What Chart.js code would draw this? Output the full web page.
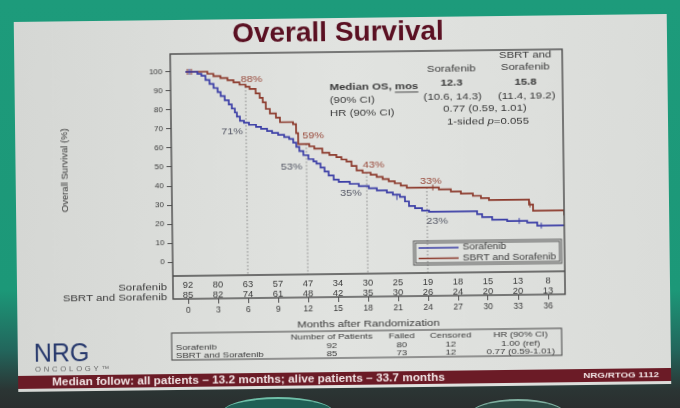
<!DOCTYPE html>
<html>
<head>
<meta charset="utf-8">
<title>Overall Survival</title>
<script src="https://cdn.jsdelivr.net/npm/chart.js@4.4.0/dist/chart.umd.min.js"></script>
<style>
  html, body { margin: 0; padding: 0; }
  body {
    width: 680px; height: 408px; overflow: hidden; position: relative;
    background: linear-gradient(180deg, #1d9b7b 0px, #1c9878 290px, #22665c 350px, #2b3534 390px, #2a2e2e 408px);
  }
  #slide { position: absolute; left: 0; top: 0; transform: rotate(-0.7deg); }
  .blob { position: absolute; border-radius: 50% 50% 0 0; }
</style>
</head>
<body>
<div class="blob" style="left:222px;top:397px;width:112px;height:30px;background:#1f5f55;border-top:2px solid #6fbfa8"></div>
<div class="blob" style="left:470px;top:399px;width:96px;height:30px;background:#2c4a44;border-top:2px solid #7fae9f"></div>
<canvas id="slide" width="680" height="408"></canvas>
<script>
// ---- data ----
const monthTicks = [0, 3, 6, 9, 12, 15, 18, 21, 24, 27, 30, 33, 36];
const survivalTicks = [0, 10, 20, 30, 40, 50, 60, 70, 80, 90, 100];

const sorafenibTime = [0, 1.2, 1.6, 2.0, 2.4, 2.8, 3.2, 3.5, 3.9, 4.3, 4.6, 4.9, 5.1, 5.4, 5.8, 6.3, 7.0, 7.5, 8.1, 8.6,
  9.2, 9.8, 10.3, 10.7, 11.0, 11.3, 11.7, 12.2, 12.7, 13.0, 13.4, 13.8, 14.2, 14.7, 15.2, 16.3, 17.2, 18.2, 19.0, 20.0,
  20.6, 21.3, 21.8, 22.2, 22.8, 23.5, 24.2, 29.0, 29.5, 30.5, 32.0, 34.0, 35.0, 37.7];
const sorafenibSurv = [100, 98.9, 97.8, 95.6, 93.5, 91.3, 89.1, 87, 84.8, 82.6, 80.4, 78.3, 76.1, 73.9, 72.8, 71.7, 70.6, 69.5, 68.4, 67.3,
  66.2, 65.1, 64, 62, 59.8, 57.6, 55.4, 53.3, 52, 50.9, 48.7, 46.6, 44.5, 42.3, 41.1, 40, 38.8, 37.6, 36.4, 35.2,
  34, 32.8, 30.4, 28, 26.8, 25.5, 24.8, 23.2, 21.6, 20.2, 19.4, 18.5, 16.8, 16.8];

const sbrtTime = [0, 2.2, 2.8, 3.5, 4.2, 4.8, 5.4, 6.0, 6.4, 7.0, 7.4, 7.7, 8.0, 8.4, 9.0, 9.4, 10.7, 11.0, 11.2, 12.3,
  12.8, 13.6, 14.3, 15.0, 15.5, 16.0, 16.5, 17.0, 17.6, 18.4, 19.0, 19.6, 20.2, 20.8, 21.4, 22.0, 25.2, 26.4, 27.4, 28.6,
  29.4, 30.2, 34.2, 34.6, 37.4, 37.7];
const sbrtSurv = [100, 98.8, 97.6, 96.5, 95.3, 94.1, 92.9, 91.8, 90.6, 88.2, 85.9, 83.5, 80, 77.6, 75.3, 72.9, 71.8, 67, 61.2, 60,
  58.8, 56.5, 55.3, 54.1, 52.9, 51.8, 49.4, 47, 45.8, 44.7, 43.5, 42.3, 41.1, 40, 38.8, 37.6, 36.5, 35.3, 34.1, 32.9,
  31.6, 30.6, 28, 24.7, 24.7, 22];

const sorafenibCensorTime = [0.4, 21.0, 33.2, 35.4];
const sorafenibCensorSurv = [100, 32.8, 19.4, 16.8];
const sbrtCensorTime = [0.2, 0.6, 24.6, 34.3];
const sbrtCensorSurv = [100, 100, 37.6, 28];

const sorafenibAtRisk = [92, 80, 63, 57, 47, 34, 30, 25, 19, 18, 15, 13, 8];
const sbrtAtRisk = [85, 82, 74, 61, 48, 42, 35, 30, 26, 24, 20, 20, 13];

const milestoneMonths = [6, 12, 18, 24];
const sorafenibMilestone = ['71%', '53%', '35%', '23%'];
const sbrtMilestone = ['88%', '59%', '43%', '33%'];

const groups = ['Sorafenib', 'SBRT and Sorafenib'];
const patients = [92, 85];
const failed = [80, 73];
const censored = [12, 12];
const hrText = ['1.00 (ref)', '0.77 (0.59-1.01)'];

// ---- styling ----
const BLUE = '#3b3ea6';
const RED = '#8c3a2c';
const INK = '#3a3a3a';
const FONT = '"Liberation Sans", Arial, sans-serif';
const SEPARATOR_Y = 274;
const WIDE = 1.2; // the slide text is a little stretched sideways
const sbrtLabelOffset = [[6, -7], [7, -8], [7, -7], [4, -6]];
const sorafenibLabelOffset = [[-14, 9], [-15, 12], [-16, 7], [10, 11]];

Chart.defaults.font.family = FONT;

function toXY(t, s) {
  return t.map((x, i) => ({ x: x, y: s[i] }));
}

function stepValue(times, surv, t) {
  let v = surv[0];
  for (let i = 0; i < times.length; i++) {
    if (times[i] <= t) v = surv[i];
  }
  return v;
}

function text(ctx, str, x, y, font, color, align, sx) {
  ctx.save();
  ctx.font = font;
  ctx.fillStyle = color;
  ctx.textAlign = align || 'left';
  ctx.textBaseline = 'middle';
  ctx.translate(x, y);
  ctx.scale(sx || 1, 1);
  ctx.fillText(str, 0, 0);
  ctx.restore();
}

function textWidth(ctx, str, font, sx) {
  ctx.font = font;
  return ctx.measureText(str).width * (sx || 1);
}

const slidePlugin = {
  id: 'slide',
  beforeDraw(chart) {
    const ctx = chart.ctx;
    ctx.save();
    const g = ctx.createLinearGradient(16, 0, 669, 0);
    g.addColorStop(0, '#d5d7d4');
    g.addColorStop(0.5, '#e1e3e0');
    g.addColorStop(1, '#dadcd9');
    ctx.fillStyle = g;
    ctx.fillRect(16, 18, 653, 370);

    text(ctx, 'Overall Survival', 340, 33, 'bold 28px ' + FONT, '#5a1022', 'center');

    // footer bar
    ctx.fillStyle = '#6b1b26';
    ctx.fillRect(16, 372, 653, 13);
    text(ctx, 'Median follow: all patients \u2013 13.2 months; alive patients \u2013 33.7 months', 50, 379, 'bold 10px ' + FONT, '#f1e4e4', 'left', 1.18);
    text(ctx, 'NRG/RTOG 1112', 657, 378.5, 'bold 8px ' + FONT, '#f1e4e4', 'right', 1.22);

    // logo
    text(ctx, 'NRG', 32, 351, '25px ' + FONT, '#26386c');
    ctx.letterSpacing = '2.5px';
    text(ctx, 'ONCOLOGY\u2122', 33, 366, '7px ' + FONT, '#6a6a6a', 'left', 1.1);
    ctx.letterSpacing = '0px';
    ctx.restore();
  },
  beforeDatasetsDraw(chart) {
    const ctx = chart.ctx;
    const xs = chart.scales.x, ys = chart.scales.y;
    ctx.save();
    ctx.strokeStyle = '#8a8a8a';
    ctx.lineWidth = 1;
    ctx.setLineDash([1.5, 2]);
    milestoneMonths.forEach(m => {
      const x = xs.getPixelForValue(m);
      ctx.beginPath();
      ctx.moveTo(x, ys.getPixelForValue(stepValue(sbrtTime, sbrtSurv, m)));
      ctx.lineTo(x, SEPARATOR_Y);
      ctx.stroke();
    });
    ctx.restore();
  },
  afterDraw(chart) {
    const ctx = chart.ctx;
    const a = chart.chartArea;
    const xs = chart.scales.x, ys = chart.scales.y;
    ctx.save();

    // frame and at-risk band
    ctx.strokeStyle = '#4a4a4a';
    ctx.lineWidth = 1.4;
    ctx.strokeRect(a.left, a.top, a.right - a.left, a.bottom - a.top);
    ctx.beginPath();
    ctx.moveTo(a.left, SEPARATOR_Y);
    ctx.lineTo(a.right, SEPARATOR_Y);
    ctx.stroke();

    const fNum = '8.5px ' + FONT;
    monthTicks.forEach((m, i) => {
      const x = xs.getPixelForValue(m);
      text(ctx, String(sorafenibAtRisk[i]), x, 284, fNum, INK, 'center', 1.1);
      text(ctx, String(sbrtAtRisk[i]), x, 294, fNum, INK, 'center', 1.1);
    });
    text(ctx, groups[0], 166, 285, '9.5px ' + FONT, INK, 'right', WIDE);
    text(ctx, groups[1], 166, 295, '9.5px ' + FONT, INK, 'right', WIDE);

    // axis titles
    text(ctx, 'Months after Randomization', xs.getPixelForValue(18), 324, '9.5px ' + FONT, INK, 'center', WIDE);
    ctx.save();
    ctx.translate(65, 167);
    ctx.rotate(-Math.PI / 2);
    text(ctx, 'Overall Survival (%)', 0, 0, '9.5px ' + FONT, INK, 'center');
    ctx.restore();

    // milestone labels
    const fLab = '9px ' + FONT;
    milestoneMonths.forEach((m, i) => {
      const x = xs.getPixelForValue(m);
      const yr = ys.getPixelForValue(stepValue(sbrtTime, sbrtSurv, m));
      const yb = ys.getPixelForValue(stepValue(sorafenibTime, sorafenibSurv, m));
      text(ctx, sbrtMilestone[i], x + sbrtLabelOffset[i][0], yr + sbrtLabelOffset[i][1], fLab, '#98493a', 'center', WIDE);
      text(ctx, sorafenibMilestone[i], x + sorafenibLabelOffset[i][0], yb + sorafenibLabelOffset[i][1], fLab, '#555866', 'center', WIDE);
    });

    // median / HR block
    const f9 = '9.5px ' + FONT, b9 = 'bold 9.5px ' + FONT, i9 = 'italic 9.5px ' + FONT;
    text(ctx, 'Median OS, mos', 331, 87, b9, INK, 'left', WIDE);
    const wMed = textWidth(ctx, 'Median OS, ', b9, WIDE), wMos = textWidth(ctx, 'mos', b9, WIDE);
    ctx.fillStyle = INK;
    ctx.fillRect(331 + wMed, 92.5, wMos, 0.9);
    text(ctx, '(90% CI)', 331, 100, f9, INK, 'left', WIDE);
    text(ctx, 'HR (90% CI)', 331, 113, f9, INK, 'left', WIDE);
    text(ctx, 'Sorafenib', 453, 70, f9, INK, 'center', WIDE);
    text(ctx, '12.3', 453, 84, b9, INK, 'center', WIDE);
    text(ctx, '(10.6, 14.3)', 454, 98, f9, INK, 'center', WIDE);
    text(ctx, 'SBRT and', 527, 57, f9, INK, 'center', WIDE);
    text(ctx, 'Sorafenib', 527, 69, f9, INK, 'center', WIDE);
    text(ctx, '15.8', 527, 84, b9, INK, 'center', WIDE);
    text(ctx, '(11.4, 19.2)', 528, 98, f9, INK, 'center', WIDE);
    text(ctx, '0.77 (0.59, 1.01)', 486, 110, f9, INK, 'center', WIDE);
    const pre = '1-sided ', post = '=0.055';
    const wPre = textWidth(ctx, pre, f9, WIDE), wPost = textWidth(ctx, post, f9, WIDE), wP = textWidth(ctx, 'p', i9, WIDE);
    const px = 489 - (wPre + wP + wPost) / 2;
    text(ctx, pre, px, 123, f9, INK, 'left', WIDE);
    text(ctx, 'p', px + wPre, 123, i9, INK, 'left', WIDE);
    text(ctx, post, px + wPre + wP, 123, f9, INK, 'left', WIDE);

    // legend
    ctx.strokeStyle = '#555';
    ctx.lineWidth = 1;
    ctx.strokeRect(413, 242, 148, 24);
    ctx.strokeRect(415, 244, 144, 20);
    ctx.lineWidth = 1.7;
    ctx.strokeStyle = BLUE;
    ctx.beginPath(); ctx.moveTo(418, 249); ctx.lineTo(458, 249); ctx.stroke();
    ctx.strokeStyle = RED;
    ctx.beginPath(); ctx.moveTo(418, 259.5); ctx.lineTo(458, 259.5); ctx.stroke();
    text(ctx, groups[0], 462, 249, '8.5px ' + FONT, INK, 'left', WIDE);
    text(ctx, groups[1], 462, 259.5, '8.5px ' + FONT, INK, 'left', WIDE);

    // summary table
    ctx.strokeStyle = '#505050';
    ctx.lineWidth = 1.1;
    ctx.strokeRect(170, 331, 390, 27);
    const f7 = '8px ' + FONT;
    const cols = [330, 400, 449, 519];
    ['Number of Patients', 'Failed', 'Censored', 'HR (90% CI)'].forEach((h, i) => text(ctx, h, cols[i], 337, f7, INK, 'center', WIDE));
    groups.forEach((gName, r) => {
      const y = 346 + r * 8;
      text(ctx, gName, 174, y, f7, INK, 'left', WIDE);
      text(ctx, String(patients[r]), cols[0], y, f7, INK, 'center', WIDE);
      text(ctx, String(failed[r]), cols[1], y, f7, INK, 'center', WIDE);
      text(ctx, String(censored[r]), cols[2], y, f7, INK, 'center', WIDE);
      text(ctx, hrText[r], cols[3], y, f7, INK, 'center', WIDE);
    });
    ctx.restore();
  }
};

const ctx = document.getElementById('slide').getContext('2d');
new Chart(ctx, {
  type: 'line',
  data: {
    datasets: [
      { label: 'Sorafenib', data: toXY(sorafenibTime, sorafenibSurv), borderColor: BLUE, borderWidth: 1.7, stepped: true, pointRadius: 0, fill: false },
      { label: 'SBRT and Sorafenib', data: toXY(sbrtTime, sbrtSurv), borderColor: RED, borderWidth: 1.7, stepped: true, pointRadius: 0, fill: false },
      { label: 'Sorafenib censored', data: toXY(sorafenibCensorTime, sorafenibCensorSurv), showLine: false, pointStyle: 'line', rotation: 90, pointRadius: 3, pointBorderColor: BLUE, pointBorderWidth: 1 },
      { label: 'SBRT censored', data: toXY(sbrtCensorTime, sbrtCensorSurv), showLine: false, pointStyle: 'line', rotation: 90, pointRadius: 3, pointBorderColor: RED, pointBorderWidth: 1 }
    ]
  },
  options: {
    responsive: false,
    animation: false,
    layout: { padding: { top: 52, right: 116, left: 0, bottom: 0 } },
    plugins: { legend: { display: false }, tooltip: { enabled: false } },
    scales: {
      x: {
        type: 'linear', min: -1.5, max: 37.7,
        afterBuildTicks: s => { s.ticks = monthTicks.map(v => ({ value: v })); },
        afterFit: s => { s.height = 408 - 297; },
        grid: { drawOnChartArea: false, drawTicks: true, tickLength: 5, color: '#505050' },
        border: { display: false },
        ticks: { font: { size: 8.5 }, color: INK, padding: 2, maxRotation: 0 }
      },
      y: {
        min: -19.47, max: 109.47,
        afterBuildTicks: s => { s.ticks = survivalTicks.map(v => ({ value: v })); },
        afterFit: s => { s.width = 172; },
        grid: { drawOnChartArea: false, drawTicks: true, tickLength: 5, color: '#505050' },
        border: { display: false },
        ticks: { font: { size: 8 }, color: INK, padding: 3 }
      }
    }
  },
  plugins: [slidePlugin]
});
</script>
</body>
</html>
